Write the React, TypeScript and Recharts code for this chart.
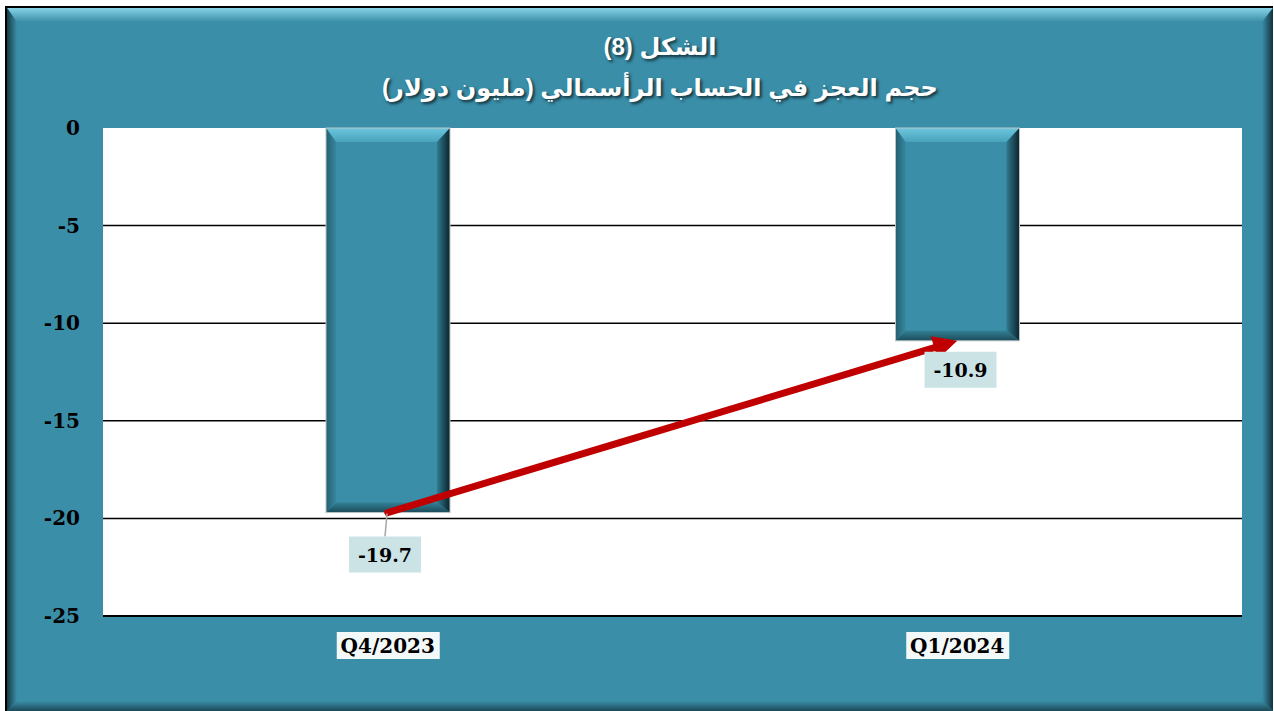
import React from 'react';
import { BarChart, Bar, XAxis, YAxis, CartesianGrid, LabelList, ReferenceLine } from 'recharts';

const quarters = ['Q4/2023', 'Q1/2024'];
const deficit = [-19.7, -10.9];
const yTicks = [0, -5, -10, -15, -20, -25];
const gridValues = [-5, -10, -15, -20];
const titleLine1 = 'الشكل (8)';
const titleLine2 = 'حجم العجز في الحساب الرأسمالي (مليون دولار)';

const data = quarters.map((q, i) => ({ quarter: q, value: deficit[i] }));

const W = 1274;
const H = 711;
const TEAL = '#3a8ea8';
const SERIF = "'DejaVu Serif', 'Liberation Serif', serif";

const BevelBar = (props: any) => {
  const { x, y, width, height } = props;
  const top = Math.min(y, y + height);
  const h = Math.abs(height);
  const l = x;
  const r = x + width;
  const b = top + h;
  const dT = 14, dR = 13, dB = 10, dL = 10;
  return (
    <g>
      <rect x={l} y={top} width={width} height={h} fill={TEAL} />
      <polygon points={`${l},${top} ${r},${top} ${r - dR},${top + dT} ${l + dL},${top + dT}`} fill="url(#barTop)" />
      <polygon points={`${r},${top} ${r},${b} ${r - dR},${b - dB} ${r - dR},${top + dT}`} fill="url(#barRight)" />
      <polygon points={`${l},${b} ${r},${b} ${r - dR},${b - dB} ${l + dL},${b - dB}`} fill="url(#barBottom)" />
      <polygon points={`${l},${top} ${l + dL},${top + dT} ${l + dL},${b - dB} ${l},${b}`} fill="url(#barLeft)" />
      <rect x={l} y={top} width={width} height={h} fill="none" stroke="#b9c4c8" strokeWidth={1} />
    </g>
  );
};

const ValueLabel = (props: any) => {
  const { x, y, width, height, value, index } = props;
  const bottom = Math.max(y, y + height);
  const cx = x + width / 2;
  const gap = index === 0 ? 24 : 11;
  const shift = index === 0 ? -3 : 3;
  const bx = cx + shift - 36;
  const by = bottom + gap;
  return (
    <g>
      {index === 0 && (
        <line x1={cx - 1} y1={bottom + 1} x2={cx - 3} y2={by} stroke="#a6a6a6" strokeWidth={1.5} />
      )}
      <rect x={bx} y={by} width={72} height={36} fill="#cce3e6" />
      <text
        x={bx + 36}
        y={by + 25}
        textAnchor="middle"
        fontFamily={SERIF}
        fontWeight="bold"
        fontSize={19}
        fill="#000"
      >
        {value}
      </text>
    </g>
  );
};

const XTick = (props: any) => {
  const { x, y, payload } = props;
  return (
    <g>
      <rect x={x - 51} y={y + 16} width={103} height={27} fill="#f3f8f9" />
      <text x={x} y={y + 37} textAnchor="middle" fontFamily={SERIF} fontWeight="bold" fontSize={20} fill="#000">
        {payload.value}
      </text>
    </g>
  );
};

const YTick = (props: any) => {
  const { x, y, payload } = props;
  return (
    <text x={x} y={y + 7} textAnchor="end" fontFamily={SERIF} fontWeight="bold" fontSize={20} fill="#000">
      {payload.value}
    </text>
  );
};

const Arrow = (props: any) => {
  const { x1, y1, x2, y2 } = props;
  const dx = x2 - x1;
  const dy = y2 - y1;
  const len = Math.sqrt(dx * dx + dy * dy);
  const ux = dx / len;
  const uy = dy / len;
  const headLen = 24;
  const headHalf = 12;
  const bx = x2 - ux * headLen;
  const by = y2 - uy * headLen;
  const px = -uy;
  const py = ux;
  return (
    <g>
      <line x1={x1} y1={y1} x2={bx + ux * 2} y2={by + uy * 2} stroke="#c00000" strokeWidth={7} strokeLinecap="round" />
      <polygon
        points={`${x2},${y2} ${bx + px * headHalf},${by + py * headHalf} ${bx - px * headHalf},${by - py * headHalf}`}
        fill="#c00000"
      />
    </g>
  );
};

const Frame = () => (
  <svg width={W} height={H} style={{ position: 'absolute', left: 0, top: 0 }}>
    <defs>
      <linearGradient id="fTop" x1="0" y1="0" x2="0" y2="1">
        <stop offset="0%" stopColor="#86d3e6" />
        <stop offset="100%" stopColor={TEAL} />
      </linearGradient>
      <linearGradient id="fRight" x1="0" y1="0" x2="1" y2="0">
        <stop offset="0%" stopColor={TEAL} />
        <stop offset="100%" stopColor="#12323c" />
      </linearGradient>
      <linearGradient id="fBottom" x1="0" y1="0" x2="0" y2="1">
        <stop offset="0%" stopColor={TEAL} />
        <stop offset="100%" stopColor="#1b4957" />
      </linearGradient>
      <linearGradient id="fLeft" x1="0" y1="0" x2="1" y2="0">
        <stop offset="0%" stopColor="#163a45" />
        <stop offset="100%" stopColor={TEAL} />
      </linearGradient>
    </defs>
    <rect x={5} y={6} width={1268} height={705} fill={TEAL} />
    <polygon points="7,8 1273,8 1262,22 17,22" fill="url(#fTop)" />
    <polygon points="1273,8 1273,711 1262,701 1262,22" fill="url(#fRight)" />
    <polygon points="7,711 1273,711 1262,701 17,701" fill="url(#fBottom)" />
    <polygon points="7,8 17,22 17,701 7,711" fill="url(#fLeft)" />
    <rect x={5} y={6} width={1268} height={2} fill="#000" />
    <rect x={5} y={6} width={2} height={705} fill="#000" />
  </svg>
);

const titleStyle: React.CSSProperties = {
  position: 'absolute',
  left: 0,
  width: 1320,
  textAlign: 'center',
  direction: 'rtl',
  color: '#fff',
  fontFamily: "Arial, 'Liberation Sans', 'DejaVu Sans', sans-serif",
  fontWeight: 'bold',
  fontSize: 24,
  lineHeight: '30px',
  textShadow: '2px 2px 3px rgba(0,0,0,0.65)',
};

export default function App() {
  return (
    <div style={{ position: 'absolute', left: 0, top: 0, width: W, height: H, overflow: 'hidden' }}>
      <Frame />
      <div style={{ ...titleStyle, top: 32 }}>{titleLine1}</div>
      <div style={{ ...titleStyle, top: 73 }}>{titleLine2}</div>
      <div style={{ position: 'absolute', left: 0, top: 0 }}>
        <BarChart
          width={W}
          height={H}
          data={data}
          margin={{ top: 128, right: 32, bottom: 65, left: 23 }}
          barSize={124}
        >
          <defs>
            <linearGradient id="barTop" x1="0" y1="0" x2="0" y2="1">
              <stop offset="0%" stopColor="#6cc6dd" />
              <stop offset="100%" stopColor="#48a2bb" />
            </linearGradient>
            <linearGradient id="barRight" x1="0" y1="0" x2="1" y2="0">
              <stop offset="0%" stopColor="#2f7a90" />
              <stop offset="100%" stopColor="#0c232b" />
            </linearGradient>
            <linearGradient id="barBottom" x1="0" y1="0" x2="0" y2="1">
              <stop offset="0%" stopColor="#327f95" />
              <stop offset="100%" stopColor="#1c4b59" />
            </linearGradient>
            <linearGradient id="barLeft" x1="0" y1="0" x2="1" y2="0">
              <stop offset="0%" stopColor="#245f70" />
              <stop offset="100%" stopColor="#3787a0" />
            </linearGradient>
          </defs>
          <CartesianGrid
            fill="#ffffff"
            stroke="#000"
            strokeWidth={1.5}
            vertical={false}
            horizontalValues={gridValues}
          />
          <XAxis
            dataKey="quarter"
            height={30}
            axisLine={{ stroke: '#000', strokeWidth: 2 }}
            tickLine={false}
            tickSize={0}
            tickMargin={0}
            tick={<XTick />}
            interval={0}
          />
          <YAxis
            type="number"
            domain={[-25, 0]}
            ticks={yTicks}
            width={80}
            axisLine={false}
            tickLine={false}
            tickSize={0}
            tickMargin={23}
            tick={<YTick />}
            interval={0}
          />
          <Bar dataKey="value" shape={<BevelBar />} isAnimationActive={false}>
            <LabelList dataKey="value" content={<ValueLabel />} />
          </Bar>
          <ReferenceLine
            segment={[
              { x: quarters[0], y: deficit[0] },
              { x: quarters[1], y: deficit[1] },
            ]}
            shape={<Arrow />}
            ifOverflow="visible"
          />
        </BarChart>
      </div>
    </div>
  );
}
